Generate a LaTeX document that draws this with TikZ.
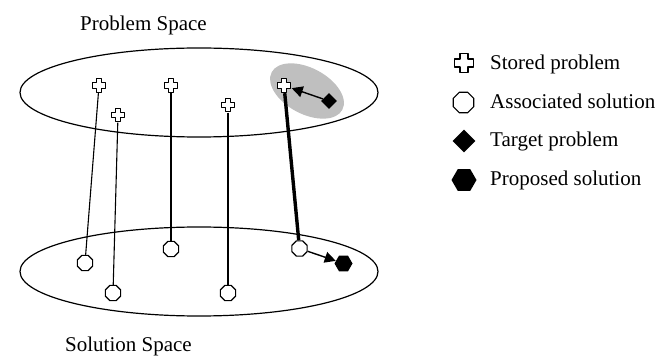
\documentclass[tikz,border=0pt]{standalone}
\usepackage{fontspec}
\setmainfont{Liberation Serif}
\usetikzlibrary{shapes.geometric,arrows.meta}
\tikzset{
  plusnode/.style={inner sep=0pt, minimum size=#1},
  plusshape/.style={fill=white, line width=1.3pt, line join=round},
  solnode/.style={regular polygon, regular polygon sides=8, draw, fill=white, line width=1.2pt, inner sep=0pt, minimum size=#1},
  targetnode/.style={diamond, aspect=1, fill=black, inner sep=0pt, minimum size=#1},
  propnode/.style={regular polygon, regular polygon sides=6, fill=black, inner sep=0pt, minimum size=#1},
  space/.style={draw, line width=1.2pt},
  link/.style={line width=1.1pt},
  thicklink/.style={line width=3.4pt},
  arrowlink/.style={line width=1.4pt, -{Triangle[length=11pt,width=11pt]}},
  label/.style={font=\fontsize{21}{25}\selectfont, inner sep=0pt, anchor=base west},
}
\newcommand\plusat[2]{%
  \draw[plusshape, shift={(#1.center)}, scale=#2]
    (-3.6,-8.6) -- (3.6,-8.6) -- (3.6,-3.6) -- (8.6,-3.6) -- (8.6,3.6) -- (3.6,3.6) -- (3.6,8.6)
    -- (-3.6,8.6) -- (-3.6,3.6) -- (-8.6,3.6) -- (-8.6,-3.6) -- (-3.6,-3.6) -- cycle;}
\begin{document}
\begin{tikzpicture}[x=1pt,y=-1pt]
\useasboundingbox (0,0) rectangle (659,358);
% highlight
\fill[gray!50, rotate around={-28:(307,91)}] (307,91) ellipse [x radius=40pt, y radius=23pt];
% spaces
\draw[space] (199,92.5) ellipse [x radius=179pt, y radius=44.5pt];
\draw[space] (199,271.5) ellipse [x radius=179pt, y radius=44.5pt];
\node[label] (pslabel) at (80,31) {Problem Space};
\node[label] (sslabel) at (65,351.5) {Solution Space};
% stored problems
\node[plusnode=15pt] (c1) at (99,85.5) {};
\node[plusnode=15pt] (c2) at (118,115) {};
\node[plusnode=15pt] (c3) at (171,85.5) {};
\node[plusnode=15pt] (c4) at (228,105) {};
\node[plusnode=15pt] (c5) at (284,85.5) {};
\node[targetnode=16pt] (t) at (329,101) {};
% solutions
\node[solnode=16.5pt] (s1) at (85,263) {};
\node[solnode=16.5pt] (s2) at (113,293) {};
\node[solnode=16.5pt] (s3) at (171,249) {};
\node[solnode=16.5pt] (s4) at (228,293) {};
\node[solnode=16.5pt] (s5) at (299.5,248.5) {};
\node[propnode=18pt] (p) at (343.5,263.5) {};
% links
\draw[link] (c1) -- (s1);
\draw[link] (c2) -- (s2);
\draw[link] (c3) -- (s3);
\draw[link] (c4) -- (s4);
\draw[thicklink] (c5) -- (s5);
\draw[arrowlink] (t) -- (c5);
\draw[arrowlink] (s5) -- (p);
\foreach \n in {c1,c2,c3,c4,c5} {\plusat{\n}{0.78}}
% legend
\node[plusnode=21pt] (l1) at (464,63) {};
\plusat{l1}{1.1}
\node[solnode=22pt] (l2) at (463.5,102.5) {};
\node[targetnode=23pt] (l3) at (464,141) {};
\node[propnode=25pt] (l4) at (464,180) {};
\node[label] (t1) at (490,70) {Stored problem};
\node[label] (t2) at (490,108.5) {Associated solution};
\node[label] (t3) at (490,147) {Target problem};
\node[label] (t4) at (490,185.5) {Proposed solution};
\end{tikzpicture}
\end{document}
